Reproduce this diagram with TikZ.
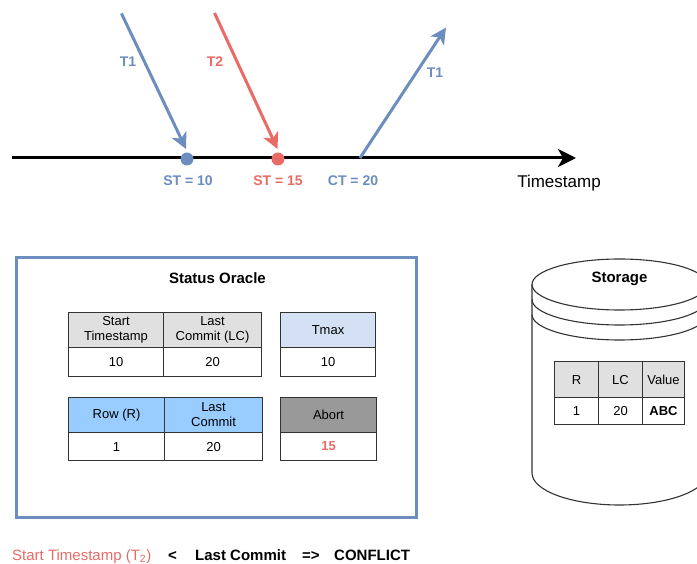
\documentclass[tikz,border=0pt]{standalone}
\usepackage{fontspec}
\setmainfont{Liberation Sans}
\usetikzlibrary{arrows.meta}

\definecolor{tblue}{HTML}{6C8EBF}
\definecolor{tred}{HTML}{EA6B66}
\definecolor{hdrgray}{HTML}{E0E0E0}
\definecolor{tmaxfill}{HTML}{D4E1F5}
\definecolor{rowfill}{HTML}{99CCFF}
\definecolor{abortfill}{HTML}{999999}
\definecolor{edgegray}{HTML}{333333}

\begin{document}
\begin{tikzpicture}[x=1pt,y=-1pt,
  cell/.style={draw=edgegray, line width=1.1pt, inner sep=0pt, anchor=north west,
               align=center, font=\fontsize{13}{15}\selectfont},
  axisarrow/.style={line width=3pt, -{Stealth[length=18pt,width=18pt,inset=5pt]}},
  txarrow/.style={line width=3pt, -{Stealth[length=16pt,width=16pt,inset=4.5pt]}},
  dotmark/.style={circle, inner sep=0pt, minimum size=13pt},
  txlabel/.style={font=\fontsize{14}{14}\selectfont\bfseries, inner sep=0pt},
  oraclebox/.style={draw=tblue, line width=3pt, anchor=north west, inner sep=0pt},
  cyl/.style={draw=edgegray, line width=1.1pt},
  title/.style={font=\fontsize{15}{15}\selectfont\bfseries, inner sep=0pt},
  bottomtext/.style={font=\fontsize{15}{15}\selectfont, anchor=base west, inner sep=0pt}]

\path[use as bounding box, fill=white] (0,0) rectangle (697,564);

% ---------- timeline ----------
\coordinate (tlstart) at (12,158);
\coordinate (tlend) at (576,158);
\draw[axisarrow] (tlstart) -- (tlend);
\node[font=\fontsize{17}{17}\selectfont, inner sep=0pt] (tslabel) at (559,183.5) {Timestamp};

% start / commit points
\node[dotmark, fill=tblue] (st10) at (187,159) {};
\node[dotmark, fill=tred] (st15) at (278,159) {};
\coordinate (ct20) at (360,158);

% transaction arrows
\coordinate (t1from) at (121.5,13.5);
\coordinate (t1tip) at (186,149);
\coordinate (t2from) at (214.5,13);
\coordinate (t2tip) at (277.5,149);
\coordinate (t1up) at (446,27.5);
\draw[txarrow, tblue] (t1from) -- (t1tip);
\draw[txarrow, tred] (t2from) -- (t2tip);
\draw[txarrow, tblue] (ct20) -- (t1up);

\node[txlabel, text=tblue] (t1a) at (128,62) {T1};
\node[txlabel, text=tred] (t2a) at (215,62) {T2};
\node[txlabel, text=tblue] (t1b) at (435,72.5) {T1};

\node[txlabel, text=tblue] (lst10) at (188,180.5) {ST = 10};
\node[txlabel, text=tred] (lst15) at (278,180.5) {ST = 15};
\node[txlabel, text=tblue] (lct20) at (353,180.5) {CT = 20};

% ---------- status oracle ----------
\node[oraclebox, minimum width=400pt, minimum height=259.5pt] (oracle) at (15,256) {};
\node[title] (oracletitle) at (217.5,278) {Status Oracle};

% start timestamp / last commit table
\node[cell, fill=hdrgray, minimum width=95pt, minimum height=35pt] (sthdr) at (68,312) {Start\\Timestamp};
\node[cell, fill=hdrgray, minimum width=98pt, minimum height=35pt] (lchdr) at (163,312) {Last\\Commit (LC)};
\node[cell, fill=white, minimum width=95pt, minimum height=29pt] (stval) at (68,347) {10};
\node[cell, fill=white, minimum width=98pt, minimum height=29pt] (lcval) at (163,347) {20};

% tmax
\node[cell, fill=tmaxfill, minimum width=95pt, minimum height=35pt] (tmaxhdr) at (280,312) {Tmax};
\node[cell, fill=white, minimum width=95pt, minimum height=29pt] (tmaxval) at (280,347) {10};

% row / last commit table
\node[cell, fill=rowfill, minimum width=96pt, minimum height=35pt] (rowhdr) at (68,397) {Row (R)};
\node[cell, fill=rowfill, minimum width=98pt, minimum height=35pt] (rlchdr) at (164,397) {Last\\Commit};
\node[cell, fill=white, minimum width=96pt, minimum height=28pt] (rowval) at (68,432) {1};
\node[cell, fill=white, minimum width=98pt, minimum height=28pt] (rlcval) at (164,432) {20};

% abort
\node[cell, fill=abortfill, minimum width=96pt, minimum height=35pt] (aborthdr) at (280,397) {Abort};
\node[cell, fill=white, minimum width=96pt, minimum height=28pt, text=tred, font=\fontsize{13}{15}\selectfont\bfseries] (abortval) at (280,432) {15};

% ---------- storage ----------
\begin{scope}
  \clip (0,0) rectangle (697,564);
  \filldraw[cyl, fill=white] (532,284.5) -- (532,473)
    arc[start angle=180, end angle=360, x radius=87.5pt, y radius=32pt]
    -- (707,284.5)
    arc[start angle=0, end angle=180, x radius=87.5pt, y radius=25.5pt] -- cycle;
  \draw[cyl] (532,284.5) arc[start angle=180, end angle=360, x radius=87.5pt, y radius=25.5pt];
  \draw[cyl] (532,299.5) arc[start angle=180, end angle=360, x radius=87.5pt, y radius=25.5pt];
  \draw[cyl] (532,314.5) arc[start angle=180, end angle=360, x radius=87.5pt, y radius=25.5pt];
\end{scope}
\node[title] (stortitle) at (619.5,278.5) {Storage};

\node[cell, fill=hdrgray, minimum width=44pt, minimum height=36pt] (srhdr) at (554,361) {R};
\node[cell, fill=hdrgray, minimum width=44pt, minimum height=36pt] (slchdr) at (598,361) {LC};
\node[cell, fill=hdrgray, minimum width=42pt, minimum height=36pt] (svhdr) at (642,361) {Value};
\node[cell, fill=white, minimum width=44pt, minimum height=27pt] (srval) at (554,397) {1};
\node[cell, fill=white, minimum width=44pt, minimum height=27pt] (slcval) at (598,397) {20};
\node[cell, fill=white, minimum width=42pt, minimum height=27pt, font=\fontsize{13}{15}\selectfont\bfseries] (svval) at (642,397) {ABC};

% ---------- conflict rule ----------
\node[bottomtext, text=tred] (rulest) at (12,560.5) {Start Timestamp (T\textsubscript{2})};
\node[bottomtext, font=\fontsize{15}{15}\selectfont\bfseries] (rulelt) at (168,560.5) {<};
\node[bottomtext, font=\fontsize{15}{15}\selectfont\bfseries] (rulelc) at (195,560.5) {Last Commit};
\node[bottomtext, font=\fontsize{15}{15}\selectfont\bfseries] (ruleimp) at (302,560.5) {=>};
\node[bottomtext, font=\fontsize{15}{15}\selectfont\bfseries] (rulecf) at (334,560.5) {CONFLICT};

\end{tikzpicture}
\end{document}
